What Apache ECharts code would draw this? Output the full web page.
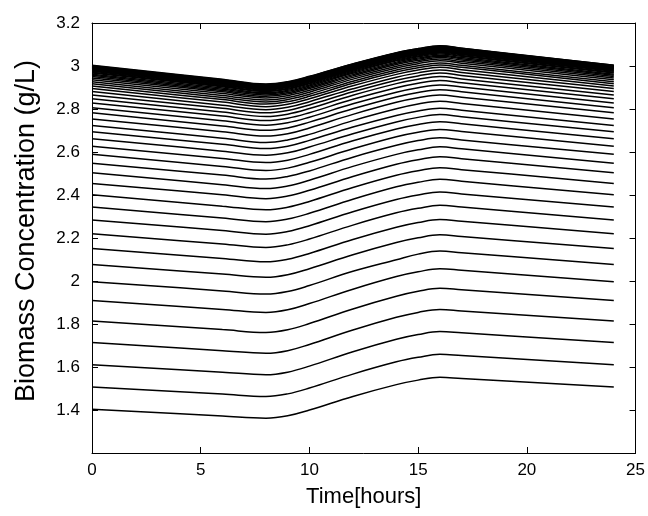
<!DOCTYPE html>
<html><head><meta charset="utf-8">
<script src="https://cdn.jsdelivr.net/npm/echarts@6/dist/echarts.min.js"></script>
<style>html,body{margin:0;padding:0;background:#fff}#c{width:648px;height:516px}</style>
</head><body><div id="c"></div>
<script>
// sample times (hours) at which each daily curve was read
const hours = [0, 6, 8, 9, 10, 12, 14, 15, 16, 17, 24];
// biomass concentration (g/L) for each simulated day, read at the times above
const biomassByDay = [
  [1.403,1.372,1.362,1.373,1.400,1.463,1.518,1.539,1.552,1.546,1.507],
  [1.507,1.474,1.463,1.475,1.502,1.567,1.624,1.645,1.659,1.653,1.611],
  [1.611,1.576,1.564,1.576,1.604,1.671,1.729,1.751,1.765,1.759,1.714],
  [1.714,1.676,1.664,1.676,1.705,1.772,1.831,1.854,1.868,1.861,1.814],
  [1.814,1.774,1.761,1.773,1.802,1.870,1.929,1.952,1.966,1.959,1.909],
  [1.909,1.868,1.854,1.866,1.895,1.962,2.021,2.043,2.057,2.050,1.997],
  [1.997,1.954,1.939,1.951,1.979,2.045,2.099,2.125,2.139,2.131,2.077],
  [2.077,2.032,2.017,2.029,2.057,2.122,2.179,2.201,2.215,2.207,2.151],
  [2.151,2.105,2.089,2.101,2.128,2.193,2.250,2.272,2.286,2.278,2.220],
  [2.220,2.172,2.156,2.168,2.195,2.260,2.317,2.338,2.352,2.344,2.284],
  [2.284,2.235,2.218,2.230,2.257,2.322,2.379,2.400,2.414,2.405,2.344],
  [2.344,2.293,2.276,2.288,2.315,2.380,2.438,2.459,2.473,2.464,2.401],
  [2.401,2.348,2.331,2.343,2.370,2.435,2.492,2.513,2.527,2.518,2.454],
  [2.454,2.401,2.383,2.395,2.422,2.486,2.543,2.564,2.578,2.569,2.503],
  [2.503,2.448,2.430,2.442,2.469,2.533,2.589,2.610,2.624,2.615,2.548],
  [2.548,2.493,2.474,2.486,2.512,2.576,2.631,2.653,2.666,2.656,2.589],
  [2.589,2.533,2.514,2.525,2.552,2.615,2.671,2.692,2.705,2.695,2.627],
  [2.627,2.570,2.551,2.562,2.589,2.652,2.707,2.728,2.741,2.731,2.662],
  [2.662,2.604,2.585,2.596,2.623,2.685,2.740,2.761,2.774,2.764,2.694],
  [2.694,2.636,2.616,2.627,2.654,2.716,2.770,2.791,2.804,2.794,2.723],
  [2.723,2.664,2.644,2.656,2.682,2.746,2.801,2.823,2.836,2.826,2.754],
  [2.754,2.694,2.674,2.685,2.712,2.775,2.831,2.852,2.865,2.855,2.782],
  [2.782,2.721,2.701,2.712,2.739,2.801,2.856,2.877,2.890,2.880,2.806],
  [2.806,2.745,2.725,2.736,2.762,2.824,2.878,2.899,2.912,2.902,2.828],
  [2.828,2.767,2.746,2.757,2.783,2.845,2.899,2.920,2.933,2.922,2.848],
  [2.848,2.786,2.765,2.776,2.802,2.864,2.918,2.938,2.951,2.940,2.865],
  [2.865,2.803,2.782,2.793,2.819,2.880,2.934,2.954,2.967,2.956,2.881],
  [2.881,2.818,2.797,2.808,2.834,2.894,2.948,2.968,2.981,2.970,2.895],
  [2.895,2.832,2.811,2.822,2.848,2.908,2.961,2.981,2.994,2.983,2.907],
  [2.907,2.844,2.823,2.834,2.859,2.920,2.972,2.992,3.005,2.994,2.918],
  [2.918,2.854,2.833,2.844,2.869,2.929,2.981,3.001,3.014,3.003,2.927],
  [2.927,2.863,2.842,2.853,2.878,2.939,2.991,3.011,3.024,3.013,2.936],
  [2.936,2.872,2.851,2.862,2.887,2.947,2.999,3.019,3.032,3.021,2.944],
  [2.944,2.880,2.859,2.870,2.895,2.954,3.007,3.026,3.039,3.028,2.951],
  [2.951,2.886,2.865,2.876,2.901,2.960,3.013,3.032,3.045,3.034,2.957],
  [2.957,2.892,2.871,2.882,2.907,2.966,3.018,3.037,3.050,3.039,2.962],
  [2.962,2.898,2.876,2.887,2.912,2.971,3.024,3.043,3.056,3.045,2.967],
  [2.967,2.903,2.881,2.892,2.917,2.976,3.028,3.047,3.060,3.049,2.971],
  [2.971,2.907,2.885,2.896,2.921,2.980,3.032,3.051,3.064,3.053,2.975],
  [2.975,2.911,2.889,2.900,2.925,2.983,3.035,3.054,3.067,3.056,2.978],
  [2.978,2.914,2.892,2.903,2.928,2.986,3.038,3.057,3.070,3.059,2.981],
  [2.981,2.917,2.895,2.906,2.931,2.989,3.041,3.060,3.073,3.062,2.984],
  [2.984,2.920,2.898,2.909,2.934,2.992,3.044,3.063,3.076,3.065,2.987],
  [2.987,2.922,2.900,2.911,2.936,2.994,3.046,3.065,3.078,3.067,2.989],
  [2.989,2.924,2.902,2.913,2.938,2.996,3.048,3.067,3.080,3.069,2.991],
  [2.991,2.926,2.904,2.915,2.940,2.998,3.050,3.069,3.082,3.071,2.993],
  [2.993,2.928,2.906,2.917,2.942,3.000,3.052,3.071,3.084,3.073,2.995],
  [2.995,2.930,2.908,2.919,2.944,3.003,3.055,3.074,3.087,3.076,2.997],
  [2.997,2.932,2.910,2.921,2.946,3.005,3.057,3.076,3.089,3.078,2.999],
  [2.999,2.934,2.912,2.923,2.948,3.007,3.059,3.078,3.091,3.080,3.001],
  [3.001,2.936,2.914,2.925,2.950,3.009,3.061,3.080,3.093,3.082,3.003],
  [3.003,2.938,2.916,2.927,2.952,3.010,3.062,3.081,3.094,3.083,3.004]
];
const yTickLabels = ['', '1.4', '1.6', '1.8', '2', '2.2', '2.4', '2.6', '2.8', '3', '3.2'];
const xTitle = 'Time[hours]';
const yTitle = 'Biomass Concentration (g/L)';

const FONT = "'Liberation Sans', Arial, Helvetica, sans-serif";
const axisLine = { show: true, onZero: false, lineStyle: { color: '#000', width: 1 } };
const tick = { show: true, inside: true, length: 6, lineStyle: { color: '#000', width: 1 } };

const series = biomassByDay.map((vals, i) => ({
  type: 'line',
  name: 'day' + (i + 1),
  data: hours.map((h, k) => [h, vals[k]]),
  showSymbol: false,
  symbol: 'none',
  smooth: 0.4,
  silent: true,
  lineStyle: { color: '#000', width: 1.5 },
  xAxisIndex: 0,
  yAxisIndex: 0
}));

const chart = echarts.init(document.getElementById('c'), null, { renderer: 'canvas' });
chart.setOption({
  animation: false,
  backgroundColor: '#fff',
  grid: { left: 92, right: 10, top: 23, bottom: 63, containLabel: false },
  xAxis: [
    { type: 'value', position: 'bottom', min: 0, max: 25, interval: 5,
      axisLine, axisTick: tick, splitLine: { show: false },
      axisLabel: { color: '#000', fontSize: 17, fontFamily: FONT, margin: 9 },
      name: xTitle, nameLocation: 'middle', nameGap: 33,
      nameTextStyle: { color: '#000', fontSize: 22, fontFamily: FONT } },
    { type: 'value', position: 'top', min: 0, max: 25, interval: 5,
      axisLine, axisTick: tick, splitLine: { show: false }, axisLabel: { show: false } }
  ],
  yAxis: [
    { type: 'value', position: 'left', min: 1.2, max: 3.2, interval: 0.2,
      axisLine, axisTick: tick, splitLine: { show: false },
      axisLabel: { color: '#000', fontSize: 17, fontFamily: FONT, margin: 12,
        formatter: (v, idx) => yTickLabels[idx] },
      name: yTitle, nameLocation: 'middle', nameGap: 52, nameRotate: 90,
      nameTextStyle: { color: '#000', fontSize: 27, fontFamily: FONT, padding: [0, 0, 0, 14] } },
    { type: 'value', position: 'right', min: 1.2, max: 3.2, interval: 0.2,
      axisLine, axisTick: tick, splitLine: { show: false }, axisLabel: { show: false } }
  ],
  series
});
</script>
</body></html>
